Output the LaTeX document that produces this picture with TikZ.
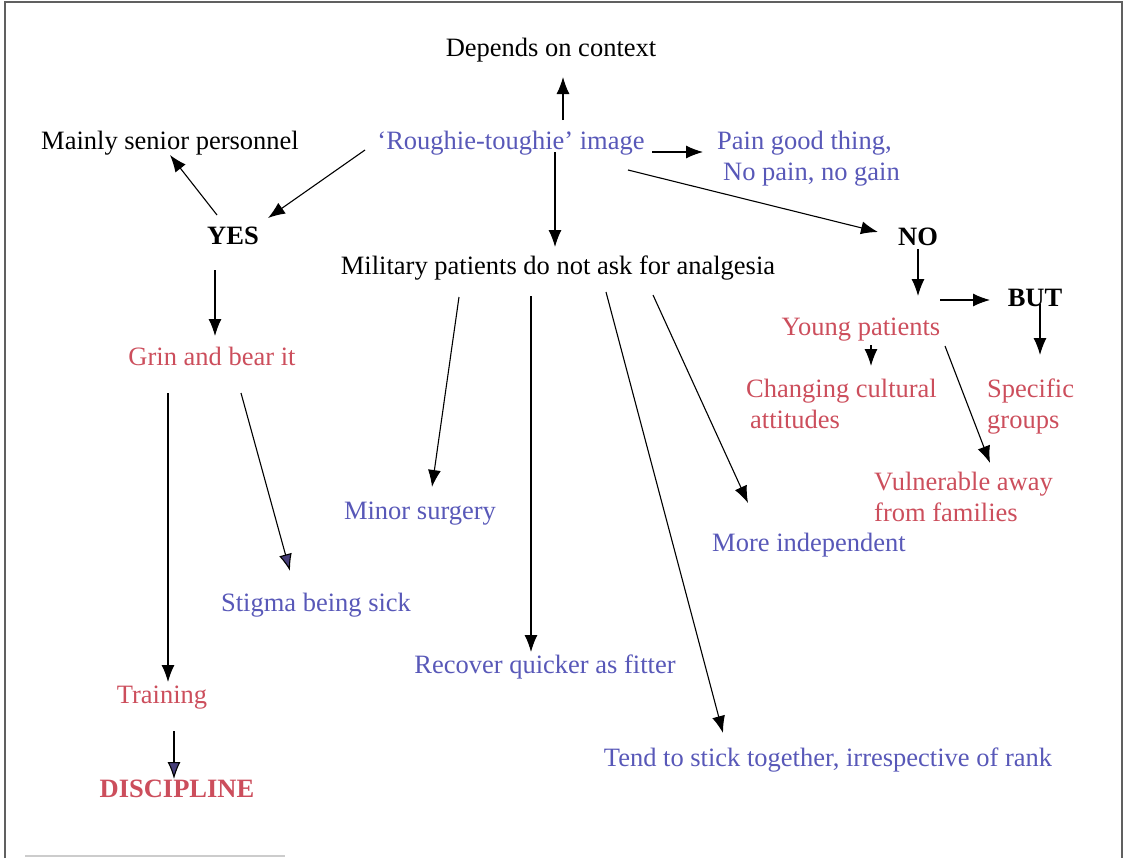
\documentclass[tikz,border=0pt]{standalone}
\usepackage{fontspec}
\setmainfont{Liberation Serif}
\usetikzlibrary{arrows.meta}

\definecolor{inkblue}{RGB}{88,88,184}
\definecolor{inkred}{RGB}{204,78,92}
\definecolor{tipdark}{RGB}{70,62,120}

\tikzset{
  lbl/.style={inner sep=0pt, anchor=base, font=\fontsize{26.5}{31}\selectfont},
  multi/.style={inner sep=0pt, anchor=north west, align=left, font=\fontsize{26.5}{31}\selectfont},
  plain/.style={text=black},
  blue/.style={text=inkblue},
  red/.style={text=inkred},
  strong/.style={font=\fontsize{26.5}{31}\selectfont\bfseries},
  arr/.style={draw=black, line width=1.1pt, -{Latex[length=17pt,width=13pt]}},
  arrdark/.style={draw=black, line width=1.1pt, -{Latex[length=17pt,width=13pt,fill=tipdark]}},
  frame/.style={draw=gray!75!black, line width=1.2pt}
}

\begin{document}
\begin{tikzpicture}[x=1pt,y=-1pt]
  \useasboundingbox (0,0) rectangle (1126,860);

  % page frame
  \draw[frame] (5,858) -- (5,2) -- (1122,2) -- (1122,858);
  \draw[gray!40, line width=1.5pt] (25,856) -- (285,856);

  % top row
  \node[lbl, plain] (depends) at (551,56) {Depends on context};
  \node[lbl, blue]  (rough)   at (511,149) {\char96 Roughie-toughie' image};
  \node[lbl, plain] (senior)  at (170,149) {Mainly senior personnel};
  \node[multi, blue] (pain)   at (717,131) {Pain good thing,\\\hspace{6pt}No pain, no gain};

  % yes / no branches
  \node[lbl, strong, plain] (yes) at (233,244) {YES};
  \node[lbl, strong, plain] (no)  at (918,245) {NO};
  \node[lbl, plain] (military) at (558,274) {Military patients do not ask for analgesia};
  \node[lbl, strong, plain] (but) at (1035,306) {BUT};

  % right side (NO branch)
  \node[lbl, red] (young) at (861,335) {Young patients};
  \node[multi, red] (changing) at (746,379) {Changing cultural\\\hspace{4pt}attitudes};
  \node[multi, red] (specific) at (987,379) {Specific\\groups};
  \node[multi, red] (vulnerable) at (874,472) {Vulnerable away\\from families};

  % left side (YES branch)
  \node[lbl, red] (grin) at (212,365) {Grin and bear it};
  \node[lbl, blue] (stigma) at (316,611) {Stigma being sick};
  \node[lbl, red] (training) at (162,703) {Training};
  \node[lbl, strong, text=inkred] (discipline) at (177,797) {DISCIPLINE};

  % consequences of not asking
  \node[lbl, blue] (minor)   at (420,519) {Minor surgery};
  \node[lbl, blue] (more)    at (809,551) {More independent};
  \node[lbl, blue] (recover) at (545,673) {Recover quicker as fitter};
  \node[lbl, blue] (tend)    at (828,766) {Tend to stick together, irrespective of rank};

  % connectors
  \draw[arr] ([shift={(52,-29)}]rough.base) -- ([shift={(12,21)}]depends.base);
  \draw[arr] ([shift={(-146,1)}]rough.base) -- ([shift={(35,-26)}]yes.base);
  \draw[arr] ([shift={(-16,-29)}]yes.base) -- ([shift={(0,6)}]senior.base);
  \draw[arr] ([shift={(141,3)}]rough.base) -- ([shift={(-14,21)}]pain.north west);
  \draw[arr] ([shift={(44,3)}]rough.base) -- ([shift={(-3,-27)}]military.base);
  \draw[arr] ([shift={(117,21)}]rough.base) -- ([shift={(-40,-13)}]no.base);

  \draw[arr] ([shift={(-18,26)}]yes.base) -- ([shift={(3,-29)}]grin.base);
  \draw[arr] ([shift={(-44,28)}]grin.base) -- ([shift={(6,-21)}]training.base);
  \draw[arrdark] ([shift={(29,28)}]grin.base) -- ([shift={(-26,-40)}]stigma.base);
  \draw[arrdark] ([shift={(12,28)}]training.base) -- ([shift={(-3,-18)}]discipline.base);

  \draw[arr] ([shift={(0,4)}]no.base) -- ([shift={(57,-39)}]young.base);
  \draw[arr] ([shift={(79,-35)}]young.base) -- ([shift={(-45,-6)}]but.base);
  \draw[arr] ([shift={(5,-2)}]but.base) -- ([shift={(53,-24)}]specific.north west);
  \draw[arr] ([shift={(10,10)}]young.base) -- ([shift={(125,-13)}]changing.north west);
  \draw[arr] ([shift={(84,11)}]young.base) -- ([shift={(116,-9)}]vulnerable.north west);

  \draw[arr] ([shift={(-99,23)}]military.base) -- ([shift={(12,-32)}]minor.base);
  \draw[arr] ([shift={(-27,22)}]military.base) -- ([shift={(-14,-21)}]recover.base);
  \draw[arr] ([shift={(48,18)}]military.base) -- ([shift={(-105,-33)}]tend.base);
  \draw[arr] ([shift={(95,21)}]military.base) -- ([shift={(-61,-48)}]more.base);
\end{tikzpicture}
\end{document}
